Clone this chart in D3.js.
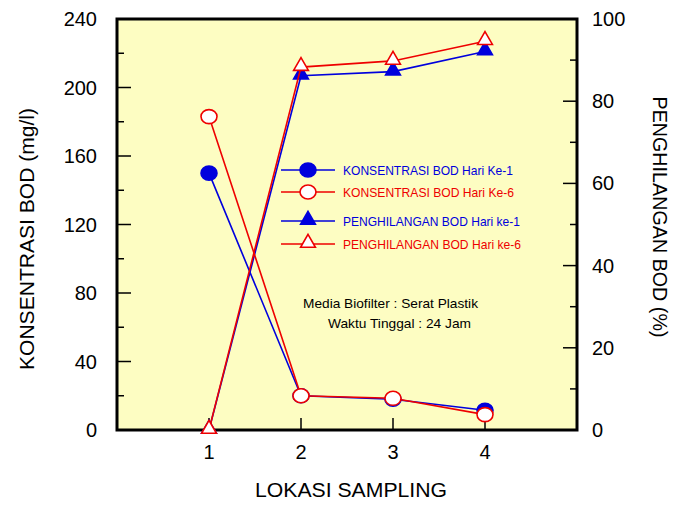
<!DOCTYPE html>
<html><head><meta charset="utf-8">
<script src="https://cdn.jsdelivr.net/npm/d3@7"></script>
<style>body{margin:0;background:#fff}svg{display:block;font-family:"Liberation Sans",Arial,sans-serif}</style>
</head><body><svg id="c" width="673" height="505"></svg>
<script>
// sampling locations
const lokasi = [1, 2, 3, 4];
// BOD concentration (mg/l)
const konsHari1 = [150, 20, 18, 11.5];
const konsHari6 = [183, 20, 18.5, 9];
// BOD removal (%)
const hilangHari1 = [0, 86.2, 87.2, 92.1];
const hilangHari6 = [0, 88.3, 89.8, 94.6];
const leftTicks = [0, 40, 80, 120, 160, 200, 240];
const rightTicks = [0, 20, 40, 60, 80, 100];

const BLUE = "#0000dd", RED = "#ee0000";
const m = {l: 117, r: 577, t: 19, b: 430};
const svg = d3.select("#c");
const x = d3.scaleLinear().domain([0, 5]).range([m.l, m.r]);
const yL = d3.scaleLinear().domain([0, 240]).range([m.b, m.t]);
const yR = d3.scaleLinear().domain([0, 100]).range([m.b, m.t]);

svg.append("rect").attr("x", m.l).attr("y", m.t).attr("width", m.r - m.l).attr("height", m.b - m.t)
  .attr("fill", "#fdfdc2");

// ticks (drawn inward)
const tk = svg.append("g").attr("stroke", "#000").attr("stroke-width", 1.5);
d3.range(0, 241, 20).forEach(v => {
  const len = v % 40 === 0 ? 14 : 7;
  tk.append("line").attr("x1", m.l).attr("x2", m.l + len).attr("y1", yL(v)).attr("y2", yL(v));
});
d3.range(0, 101, 10).forEach(v => {
  const len = v % 20 === 0 ? 14 : 7;
  tk.append("line").attr("x1", m.r).attr("x2", m.r - len).attr("y1", yR(v)).attr("y2", yR(v));
});
lokasi.forEach(v => tk.append("line").attr("x1", x(v)).attr("x2", x(v)).attr("y1", m.b).attr("y2", m.b - 12));

svg.append("rect").attr("x", m.l).attr("y", m.t).attr("width", m.r - m.l).attr("height", m.b - m.t)
  .attr("fill", "none").attr("stroke", "#000").attr("stroke-width", 3);

// tick labels
svg.append("g").selectAll("text").data(leftTicks).join("text")
  .attr("x", m.l - 20).attr("y", d => yL(d) + 7).attr("text-anchor", "end")
  .attr("font-size", 20).text(d => d);
svg.append("g").selectAll("text").data(rightTicks).join("text")
  .attr("x", m.r + 15).attr("y", d => yR(d) + 7).attr("text-anchor", "start")
  .attr("font-size", 20).text(d => d);
svg.append("g").selectAll("text").data(lokasi).join("text")
  .attr("x", d => x(d)).attr("y", 459).attr("text-anchor", "middle")
  .attr("font-size", 20).text(d => d);

// axis titles
svg.append("text").attr("x", 351).attr("y", 497).attr("text-anchor", "middle")
  .attr("font-size", 20).attr("textLength", 192).attr("lengthAdjust", "spacingAndGlyphs")
  .text("LOKASI SAMPLING");
svg.append("text").attr("transform", "translate(34,239) rotate(-90)").attr("text-anchor", "middle")
  .attr("font-size", 20).attr("textLength", 262).attr("lengthAdjust", "spacingAndGlyphs")
  .text("KONSENTRASI BOD (mg/l)");
svg.append("text").attr("transform", "translate(653,217) rotate(90)").attr("text-anchor", "middle")
  .attr("font-size", 20).attr("textLength", 241).attr("lengthAdjust", "spacingAndGlyphs")
  .text("PENGHILANGAN BOD (%)");

const tri = d3.symbol().type(d3.symbolTriangle).size(95);
function drawSeries(vals, yS, color, shape, filled) {
  const g = svg.append("g");
  g.append("path").datum(vals)
    .attr("d", d3.line().x((d, i) => x(lokasi[i])).y(d => yS(d)))
    .attr("fill", "none").attr("stroke", color).attr("stroke-width", 1.6);
  vals.forEach((d, i) => marker(g, x(lokasi[i]), yS(d), color, shape, filled));
}
function marker(g, cx, cy, color, shape, filled) {
  if (shape === "circle") {
    g.append("ellipse").attr("cx", cx).attr("cy", cy).attr("rx", 8).attr("ry", 7)
      .attr("fill", filled ? color : "#fff").attr("stroke", color).attr("stroke-width", 1.6);
  } else {
    g.append("path").attr("d", tri).attr("transform", `translate(${cx},${cy - 1})`)
      .attr("fill", filled ? color : "#fff").attr("stroke", color).attr("stroke-width", 1.6);
  }
}

drawSeries(konsHari1, yL, BLUE, "circle", true);
drawSeries(hilangHari1, yR, BLUE, "tri", true);
drawSeries(konsHari6, yL, RED, "circle", false);
drawSeries(hilangHari6, yR, RED, "tri", false);

// legend
const legend = [
  {t: "KONSENTRASI BOD Hari Ke-1", c: BLUE, s: "circle", f: true, y: 170, w: 170},
  {t: "KONSENTRASI BOD Hari Ke-6", c: RED, s: "circle", f: false, y: 192, w: 171},
  {t: "PENGHILANGAN BOD Hari ke-1", c: BLUE, s: "tri", f: true, y: 221, w: 177},
  {t: "PENGHILANGAN BOD Hari ke-6", c: RED, s: "tri", f: false, y: 244, w: 178}
];
const lg = svg.append("g");
legend.forEach(d => {
  lg.append("line").attr("x1", 281).attr("x2", 335).attr("y1", d.y).attr("y2", d.y)
    .attr("stroke", d.c).attr("stroke-width", 1.6);
  marker(lg, 308, d.y, d.c, d.s, d.f);
  lg.append("text").attr("x", 343).attr("y", d.y + 5).attr("font-size", 13)
    .attr("textLength", d.w).attr("lengthAdjust", "spacingAndGlyphs")
    .attr("fill", d.c).text(d.t);
});

svg.append("text").attr("x", 303).attr("y", 308).attr("font-size", 13.5)
  .attr("textLength", 175).attr("lengthAdjust", "spacingAndGlyphs").text("Media Biofilter : Serat Plastik");
svg.append("text").attr("x", 328).attr("y", 328).attr("font-size", 13.5)
  .attr("textLength", 143).attr("lengthAdjust", "spacingAndGlyphs").text("Waktu Tinggal : 24 Jam");
</script></body></html>
